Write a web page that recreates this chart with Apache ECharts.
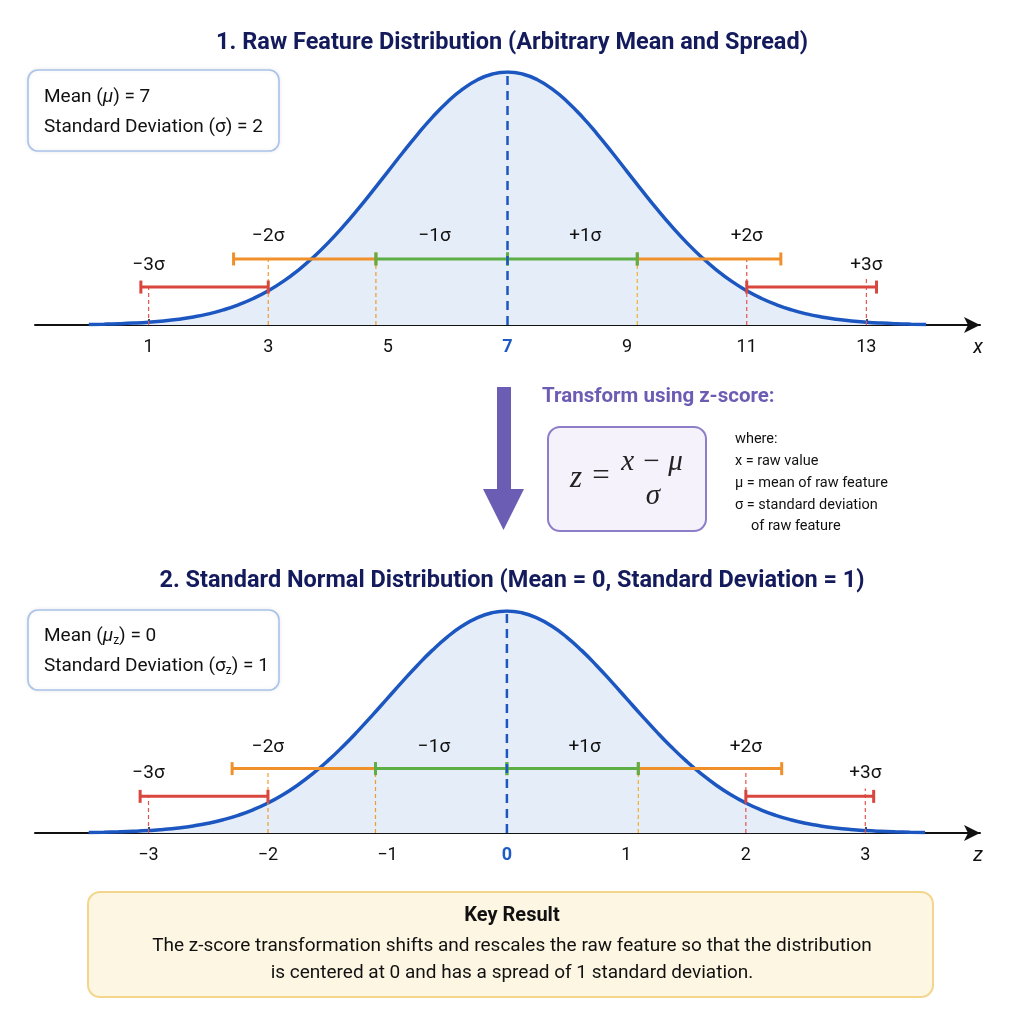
<!DOCTYPE html>
<html><head><meta charset="utf-8">
<script src="https://cdn.jsdelivr.net/npm/echarts@6/dist/echarts.min.js"></script>
<style>html,body{margin:0;padding:0;background:#fff}#c{width:1024px;height:1024px}</style>
</head><body><div id="c"></div>
<script>
// ---------- data ----------
const rawX = [0,0.25,0.5,0.75,1,1.25,1.5,1.75,2,2.25,2.5,2.75,3,3.25,3.5,3.75,4,4.25,4.5,4.75,5,5.25,5.5,5.75,6,6.25,6.5,6.75,7,
  7.25,7.5,7.75,8,8.25,8.5,8.75,9,9.25,9.5,9.75,10,10.25,10.5,10.75,11,11.25,11.5,11.75,12,12.25,12.5,12.75,13,13.25,13.5,13.75,14];
const rawDensity = [0.0022,0.0034,0.0051,0.0076,0.0111,0.0160,0.0228,0.0319,0.0439,0.0596,0.0796,0.1046,0.1353,0.1724,0.2163,0.2671,0.3247,0.3886,0.4578,0.5311,0.6065,0.6819,0.7548,0.8226,0.8825,0.9321,0.9692,0.9922,1.0000,
  0.9922,0.9692,0.9321,0.8825,0.8226,0.7548,0.6819,0.6065,0.5311,0.4578,0.3886,0.3247,0.2671,0.2163,0.1724,0.1353,0.1046,0.0796,0.0596,0.0439,0.0319,0.0228,0.0160,0.0111,0.0076,0.0051,0.0034,0.0022];
const zX = [-3.5,-3.375,-3.25,-3.125,-3,-2.875,-2.75,-2.625,-2.5,-2.375,-2.25,-2.125,-2,-1.875,-1.75,-1.625,-1.5,-1.375,-1.25,-1.125,-1,-0.875,-0.75,-0.625,-0.5,-0.375,-0.25,-0.125,0,
  0.125,0.25,0.375,0.5,0.625,0.75,0.875,1,1.125,1.25,1.375,1.5,1.625,1.75,1.875,2,2.125,2.25,2.375,2.5,2.625,2.75,2.875,3,3.125,3.25,3.375,3.5];
const zDensity = [0.0022,0.0034,0.0051,0.0076,0.0111,0.0160,0.0228,0.0319,0.0439,0.0596,0.0796,0.1046,0.1353,0.1724,0.2163,0.2671,0.3247,0.3886,0.4578,0.5311,0.6065,0.6819,0.7548,0.8226,0.8825,0.9321,0.9692,0.9922,1.0000,
  0.9922,0.9692,0.9321,0.8825,0.8226,0.7548,0.6819,0.6065,0.5311,0.4578,0.3886,0.3247,0.2671,0.2163,0.1724,0.1353,0.1046,0.0796,0.0596,0.0439,0.0319,0.0228,0.0160,0.0111,0.0076,0.0051,0.0034,0.0022];

const rawTicks = [1,3,5,7,9,11,13];
const zTicks = [-3,-2,-1,0,1,2,3];
const rawMean = 7, zMean = 0;

const bandLabels = ['\u22123\u03c3','\u22122\u03c3','\u22121\u03c3','+1\u03c3','+2\u03c3','+3\u03c3'];
const rawBandFrom = [0.87, 2.42, 4.8, 7, 9.17, 11];
const rawBandTo   = [3, 4.8, 7, 9.17, 11.57, 13.17];
const rawBandLevel = [0.150,0.261,0.261,0.261,0.261,0.150];
const zBandFrom = [-3.07, -2.3, -1.1, 0, 1.1, 2];
const zBandTo   = [-2, -1.1, 0, 1.1, 2.3, 3.07];
const zBandLevel = [0.165,0.290,0.290,0.290,0.290,0.165];

const rawLabelX = [1, 3, 5.78, 8.3, 11, 13];
const rawLabelY = [0.237,0.352,0.352,0.352,0.352,0.237];
const zLabelX = [-3, -2, -0.61, 0.65, 2, 3];
const zLabelY = [0.268,0.388,0.388,0.388,0.388,0.268];

const rawGuideX = [1, 3, 4.8, 9.17, 11, 13];
const rawGuideTop = [0.150,0.261,0.261,0.261,0.261,0.186];
const zGuideX = [-3, -2, -1.1, 1.1, 2, 3];
const zGuideTop = [0.165,0.290,0.290,0.290,0.290,0.200];

// ---------- styles ----------
const RED = '#d9463d', ORANGE = '#f0902b', GREEN = '#5cae45';
const bandColors = [RED, ORANGE, GREEN, GREEN, ORANGE, RED];
const guideColors = ['#e4554c','#f39a2a','#f39a2a','#f2b02a','#e4554c','#e4554c'];
const CURVE = '#1c56c0';
const FONT = 'Roboto';
const minus = v => v < 0 ? '\u2212' + Math.abs(v) : String(v);

function buildSeries(g, xs, ys, mean, bFrom, bTo, bLvl, lX, lY, gX, gTop) {
  const s = [];
  s.push({
    type: 'line', xAxisIndex: g, yAxisIndex: g, smooth: true, symbol: 'none', silent: true,
    data: xs.map((x, i) => [x, ys[i]]),
    lineStyle: { color: CURVE, width: 3.5 },
    areaStyle: { color: '#e5edf9', opacity: 1 },
    z: 2
  });
  gX.forEach((x, i) => s.push({
    type: 'line', xAxisIndex: g, yAxisIndex: g, symbol: 'none', silent: true,
    data: [[x, 0], [x, gTop[i]]],
    lineStyle: { color: guideColors[i], width: 1.2, type: [4, 3] }, z: 3
  }));
  const order = [0, 5, 1, 4, 2, 3];
  order.forEach(i => s.push({
    type: 'line', xAxisIndex: g, yAxisIndex: g, silent: true,
    symbol: 'rect', symbolSize: [3, 13],
    data: [[bFrom[i], bLvl[i]], [bTo[i], bLvl[i]]],
    lineStyle: { color: bandColors[i], width: 3 },
    itemStyle: { color: bandColors[i] }, z: 4
  }));
  s.push({
    type: 'line', xAxisIndex: g, yAxisIndex: g, symbol: 'none', silent: true,
    data: [[mean, 0], [mean, 1]],
    lineStyle: { color: CURVE, width: 2.5, type: [9, 6] }, z: 5
  });
  s.push({
    type: 'scatter', xAxisIndex: g, yAxisIndex: g, silent: true,
    symbolSize: 1, itemStyle: { color: '#ffffff', opacity: 0 },
    data: lX.map((x, i) => ({ value: [x, lY[i]], name: bandLabels[i] })),
    label: { show: true, position: 'inside', formatter: '{b}', fontSize: 19, color: '#111111', opacity: 1, fontFamily: FONT },
    z: 6
  });
  return s;
}

function xAxisOf(g, min, max, ticks, mean, name) {
  return {
    type: 'value', gridIndex: g, min: min, max: max,
    splitLine: { show: false },
    axisLine: { show: true, onZero: false, lineStyle: { color: '#111', width: 2 }, symbol: ['none', 'arrow'], symbolSize: [12, 16] },
    axisTick: { show: true, inside: true, length: 6, customValues: ticks, lineStyle: { color: '#111', width: 1.5 } },
    axisLabel: {
      customValues: ticks, fontSize: 18, color: '#111', fontFamily: FONT, margin: 13,
      formatter: v => v === mean ? '{m|' + minus(v) + '}' : minus(v),
      rich: { m: { color: '#1f5bc4', fontWeight: 'bold', fontSize: 18, fontFamily: FONT } }
    },
    name: name, nameLocation: 'end', nameGap: -2,
    nameTextStyle: { fontSize: 20, fontStyle: 'italic', color: '#111', fontFamily: FONT, align: 'center', verticalAlign: 'top', padding: [13, 0, 0, 0] }
  };
}

const chart = echarts.init(document.getElementById('c'), null, { renderer: 'canvas' });

const subRich = {
  i: { fontStyle: 'italic', fontSize: 19, fontFamily: FONT, fill: '#111' },
  s: { fontSize: 12, fontFamily: FONT, fill: '#111', padding: [10, 0, 0, 0] }
};

chart.setOption({
  animation: false,
  backgroundColor: '#ffffff',
  title: [
    { text: '1. Raw Feature Distribution (Arbitrary Mean and Spread)', left: 'center', top: 26,
      textStyle: { fontSize: 23.5, fontWeight: 'bold', color: '#141b5c', fontFamily: FONT } },
    { text: '2. Standard Normal Distribution (Mean = 0, Standard Deviation = 1)', left: 'center', top: 564,
      textStyle: { fontSize: 23.5, fontWeight: 'bold', color: '#141b5c', fontFamily: FONT } }
  ],
  grid: [
    { left: 35, width: 945, top: 72, height: 253 },
    { left: 35, width: 945, top: 611, height: 222 }
  ],
  xAxis: [
    xAxisOf(0, -0.9, 14.9, rawTicks, rawMean, 'x'),
    xAxisOf(1, -3.95, 3.96, zTicks, zMean, 'z')
  ],
  yAxis: [
    { type: 'value', gridIndex: 0, min: 0, max: 1, show: false },
    { type: 'value', gridIndex: 1, min: 0, max: 1, show: false }
  ],
  series: [].concat(
    buildSeries(0, rawX, rawDensity, rawMean, rawBandFrom, rawBandTo, rawBandLevel, rawLabelX, rawLabelY, rawGuideX, rawGuideTop),
    buildSeries(1, zX, zDensity, zMean, zBandFrom, zBandTo, zBandLevel, zLabelX, zLabelY, zGuideX, zGuideTop)
  ),
  graphic: [
    // info box 1
    { type: 'rect', shape: { x: 28, y: 70, width: 251, height: 81, r: 10 },
      style: { fill: '#ffffff', stroke: '#a9c3ea', lineWidth: 1.6, shadowBlur: 4, shadowColor: 'rgba(0,0,0,0.08)' }, z: 10 },
    { type: 'text', x: 44, y: 97, z: 11, style: { text: 'Mean ({i|\u03bc}) = 7', rich: subRich, font: '19px ' + FONT, fill: '#111', verticalAlign: 'middle' } },
    { type: 'text', x: 44, y: 127, z: 11, style: { text: 'Standard Deviation (\u03c3) = 2', rich: subRich, font: '19px ' + FONT, fill: '#111', verticalAlign: 'middle' } },
    // info box 2
    { type: 'rect', shape: { x: 28, y: 610, width: 251, height: 80, r: 10 },
      style: { fill: '#ffffff', stroke: '#a9c3ea', lineWidth: 1.6, shadowBlur: 4, shadowColor: 'rgba(0,0,0,0.08)' }, z: 10 },
    { type: 'text', x: 44, y: 636, z: 11, style: { text: 'Mean ({i|\u03bc}{s|z}) = 0', rich: subRich, font: '19px ' + FONT, fill: '#111', verticalAlign: 'middle' } },
    { type: 'text', x: 44, y: 666, z: 11, style: { text: 'Standard Deviation (\u03c3{s|z}) = 1', rich: subRich, font: '19px ' + FONT, fill: '#111', verticalAlign: 'middle' } },
    // transform arrow
    { type: 'polygon', z: 10, shape: { points: [[497,387],[511,387],[511,489],[524,489],[503.5,530],[483,489],[497,489]] },
      style: { fill: '#6b5cb4' } },
    { type: 'text', x: 542, y: 397, z: 11, style: { text: 'Transform using z-score:', font: 'bold 20.5px ' + FONT, fill: '#6c5cb3', verticalAlign: 'middle' } },
    // formula box
    { type: 'rect', z: 10, shape: { x: 548, y: 427, width: 158, height: 104, r: 12 },
      style: { fill: '#f5f2fc', stroke: '#8e7dc8', lineWidth: 2 } },
    { type: 'text', x: 576, y: 479, z: 11, style: { text: 'z', font: 'italic 31px "Liberation Serif", "DejaVu Serif", serif', fill: '#222', align: 'center', verticalAlign: 'middle' } },
    { type: 'text', x: 601, y: 477, z: 11, style: { text: '=', font: '31px "Liberation Serif", "DejaVu Serif", serif', fill: '#222', align: 'center', verticalAlign: 'middle' } },
    { type: 'text', x: 652, y: 462, z: 11, style: { text: 'x \u2212 \u03bc', font: 'italic 29px "Liberation Serif", "DejaVu Serif", serif', fill: '#222', align: 'center', verticalAlign: 'middle' } },
    { type: 'text', x: 653, y: 496, z: 11, style: { text: '\u03c3', font: 'italic 29px "Liberation Serif", "DejaVu Serif", serif', fill: '#222', align: 'center', verticalAlign: 'middle' } },
    // where notes
    { type: 'text', x: 735, y: 439, z: 11, style: { text: 'where:', font: '14.5px ' + FONT, fill: '#111', verticalAlign: 'middle' } },
    { type: 'text', x: 735, y: 461, z: 11, style: { text: 'x = raw value', font: '14.5px ' + FONT, fill: '#111', verticalAlign: 'middle' } },
    { type: 'text', x: 735, y: 483, z: 11, style: { text: '\u03bc = mean of raw feature', font: '14.5px ' + FONT, fill: '#111', verticalAlign: 'middle' } },
    { type: 'text', x: 735, y: 505, z: 11, style: { text: '\u03c3 = standard deviation', font: '14.5px ' + FONT, fill: '#111', verticalAlign: 'middle' } },
    { type: 'text', x: 751, y: 526, z: 11, style: { text: 'of raw feature', font: '14.5px ' + FONT, fill: '#111', verticalAlign: 'middle' } },
    // key result box
    { type: 'rect', z: 10, shape: { x: 88, y: 892, width: 845, height: 105, r: 12 },
      style: { fill: '#fdf6e2', stroke: '#f3d58c', lineWidth: 2 } },
    { type: 'text', x: 512, y: 916, z: 11, style: { text: 'Key Result', font: 'bold 20px ' + FONT, fill: '#111', align: 'center', verticalAlign: 'middle' } },
    { type: 'text', x: 512, y: 946, z: 11, style: { text: 'The z-score transformation shifts and rescales the raw feature so that the distribution', font: '19px ' + FONT, fill: '#111', align: 'center', verticalAlign: 'middle' } },
    { type: 'text', x: 512, y: 973, z: 11, style: { text: 'is centered at 0 and has a spread of 1 standard deviation.', font: '19px ' + FONT, fill: '#111', align: 'center', verticalAlign: 'middle' } }
  ]
});
</script>
</body></html>
